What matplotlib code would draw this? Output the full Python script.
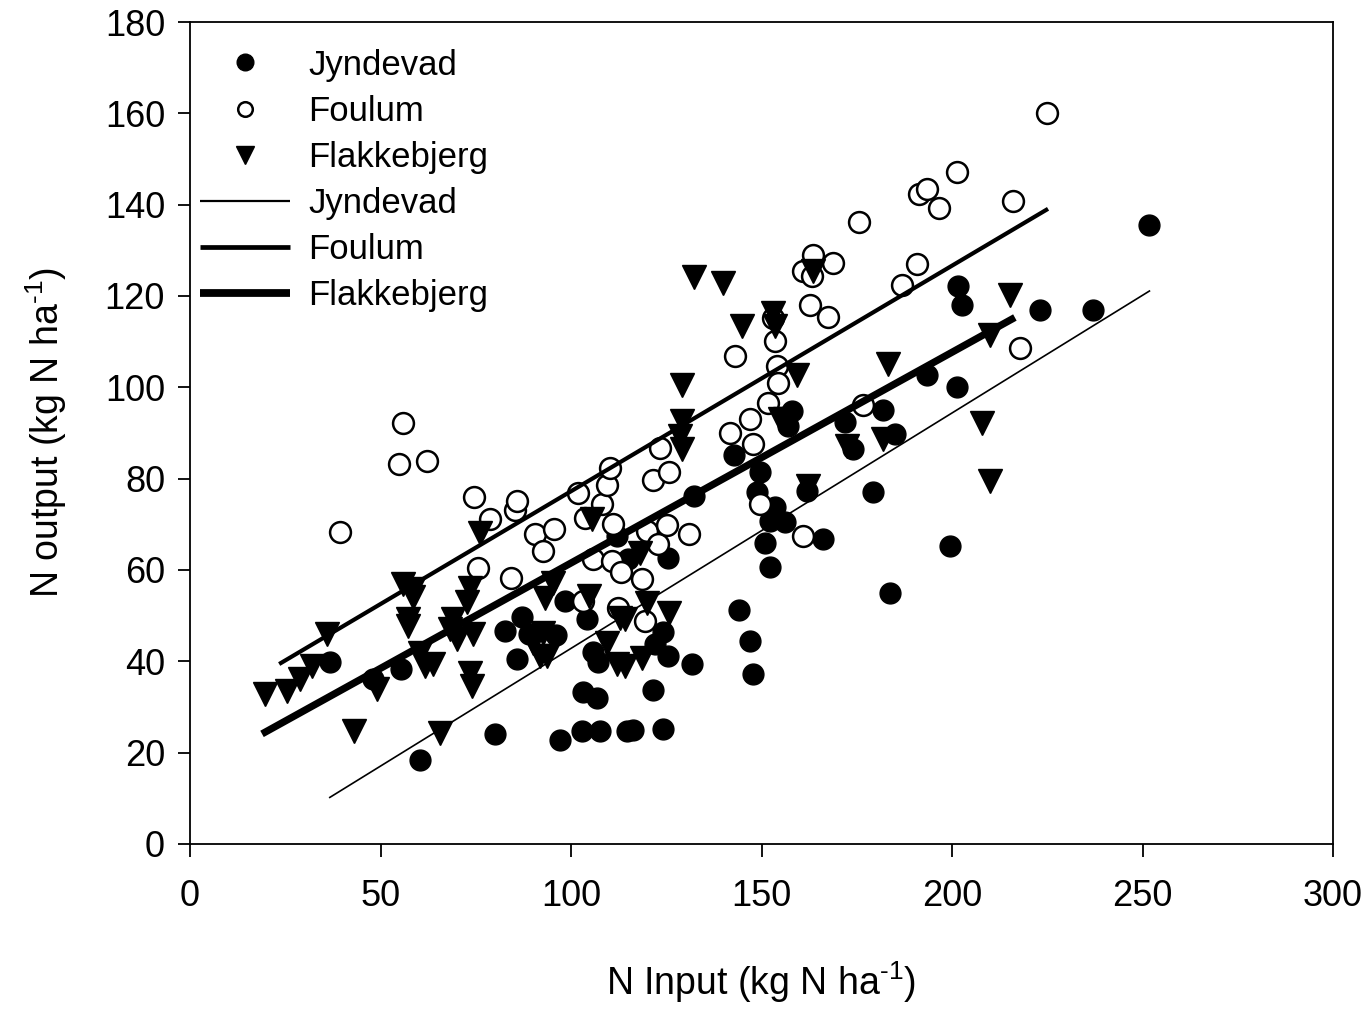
import numpy as np
import matplotlib
matplotlib.use("Agg")
import matplotlib.pyplot as plt
from matplotlib.lines import Line2D

plt.rcParams['font.family'] = ['Liberation Sans', 'DejaVu Sans']
plt.rcParams['mathtext.fontset'] = 'custom'
plt.rcParams['mathtext.rm'] = 'Liberation Sans'
plt.rcParams['mathtext.it'] = 'Liberation Sans'

# Jyndevad (filled circles)
jyn_x = [36.7, 48, 55.3, 60.3, 80, 82.6, 85.7, 87.1, 89, 96.1, 97.1, 98.4, 102.8, 103.2,
         104.1, 105.8, 106.8, 107.6, 107.1, 112, 114.6, 116.3, 115, 121.5, 122, 124.1,
         124.1, 125.5, 125.5, 131.7, 132.3, 142.7, 144.1, 147, 147.8, 148.7, 149.5, 150.9,
         152.2, 152.2, 153.5, 156.2, 157, 157.9, 161.9, 166.1, 171.9, 174, 179.3, 181.9,
         183.7, 185, 193.4, 199.5, 201.3, 201.6, 202.6, 223.1, 237.1, 251.7]
jyn_y = [39.8, 36.1, 38.3, 18.4, 24.1, 46.6, 40.5, 49.6, 46, 45.7, 22.7, 53.1, 24.7, 33.2,
         49.2, 42, 31.9, 24.7, 39.8, 67.4, 24.7, 24.9, 62.3, 33.7, 43.7, 46.4,
         25.2, 41.1, 62.6, 39.4, 76.1, 85.2, 51.2, 44.4, 37.2, 77, 81.5, 66,
         70.7, 60.6, 73.7, 70.4, 91.5, 94.8, 77.3, 66.7, 92.4, 86.4, 77, 95.1,
         55, 89.7, 102.8, 65.2, 100, 122.1, 118.1, 116.9, 116.9, 135.6]

# Foulum (open circles)
fou_x = [39.4, 54.9, 56, 62.1, 74.6, 75.5, 78.7, 84.2, 85.3, 85.9, 90.6, 92.6, 95.6, 101.9,
         103.2, 103.7, 105.9, 108.1, 109.4, 110.2, 110.7, 111.1, 112.4, 113, 118.6, 119.4,
         119.9, 121.6, 122.9, 123.4, 125.1, 125.8, 131, 141.7, 143, 147, 147.7, 149.6,
         151.8, 153.1, 153.5, 154, 154.4, 161, 161, 162.7, 163.2, 163.6, 167.5, 168.8,
         175.7, 176.7, 186.8, 190.7, 191.3, 193.4, 196.7, 201.2, 216.1, 217.8, 224.9]
fou_y = [68.4, 83.3, 92.1, 83.8, 76, 60.5, 71.1, 58.3, 73.1, 75.2, 67.8, 64.2, 68.9, 76.9,
         53.2, 71.4, 62.5, 74.4, 78.7, 82.4, 61.9, 70, 51.7, 59.6, 58, 48.8,
         68.5, 79.6, 65.6, 86.8, 69.8, 81.4, 67.8, 90, 106.8, 93, 87.6, 74.4,
         96.6, 115.2, 110.1, 104.6, 100.9, 67.4, 125.4, 118.1, 124.3, 129, 115.5, 127.2,
         136.1, 96.2, 122.5, 126.9, 142.3, 143.4, 139.2, 147.2, 140.7, 108.6, 160]

# Flakkebjerg (down triangles)
fla_x = [19.7, 25.4, 28.9, 31.9, 35.9, 43, 49, 56, 57.3, 57.3, 58.6, 58.6, 60.4, 61.7,
         63.9, 65.6, 68.2, 69.1, 70, 72.6, 73.5, 73.5, 73.9, 74.4, 76.1, 90.1, 91.9, 92.7,
         93.2, 93.6, 95.4, 104.6, 105.4, 109.4, 112, 112.9, 114.2, 114.2, 118.1, 118.6,
         119.9, 125.6, 128.6, 129, 129, 129, 132.3, 140, 144.8, 153.1, 153.5, 154.9,
         156.2, 159.2, 162.3, 163.6, 172.4, 182, 183.3, 207.8, 210, 210, 215.2]
fla_y = [32.8, 33.5, 36.1, 39, 45.9, 24.8, 33.9, 56.9, 47.7, 49.2, 54, 55.8, 41.9, 39,
         39.4, 24.4, 47, 49.2, 44.8, 52.9, 56.1, 37.5, 34.6, 45.9, 68.1, 44.1, 41.2, 46.3,
         53.9, 41.2, 57.2, 54.3, 71.1, 44.1, 39.4, 49.5, 39, 49.2, 63.8, 40.8,
         52.8, 50.6, 89.3, 86.4, 92.6, 100.4, 124.2, 122.8, 113.4, 116.3, 113.4, 93,
         93, 102.8, 78.4, 125.4, 87.1, 88.6, 105, 92.2, 79.4, 111.5, 120.3]

# regression lines: intercept, slope, x range
sites = ['Jyndevad', 'Foulum', 'Flakkebjerg']
intercepts = [-8.72, 27.84, 15.38]
slopes = [0.5155, 0.494, 0.4615]
x_start = [36.5, 23.4, 18.9]
x_end = [252, 225.2, 216.5]
line_widths = [1.2, 3.0, 5.2]

fig = plt.figure(figsize=(13.7, 10.1), dpi=100)
ax = fig.add_axes([0.1387, 0.1644, 0.8343, 0.8138])

ms = 15
ax.plot(jyn_x, jyn_y, 'o', color='black', ms=ms, ls='none', zorder=3)
ax.plot(fou_x, fou_y, 'o', mfc='white', mec='black', mew=1.8, ms=ms, ls='none', zorder=3)
ax.plot(fla_x, fla_y, 'v', color='black', ms=ms + 2, ls='none', zorder=3)

for a, b, x0, x1, lw in zip(intercepts, slopes, x_start, x_end, line_widths):
    xs = np.array([x0, x1])
    ax.plot(xs, a + b * xs, color='black', lw=lw, solid_capstyle='butt', zorder=4)

ax.set_xlim(0, 300)
ax.set_ylim(0, 180)
ax.set_xticks(np.arange(0, 301, 50))
ax.set_yticks(np.arange(0, 181, 20))
ax.tick_params(direction='out', length=9, width=1.3, labelsize=26,
               top=False, right=False)
ax.tick_params(axis='x', pad=16)
ax.tick_params(axis='y', pad=9)
for s in ax.spines.values():
    s.set_linewidth(1.3)

ax.set_xlabel('N Input (kg N ha$^{\\text{-1}}$)', fontsize=27, labelpad=33)
ax.set_ylabel('N output (kg N ha$^{\\text{-1}}$)', fontsize=27, labelpad=26)

handles = [
    Line2D([], [], marker='o', color='black', ls='none', ms=12),
    Line2D([], [], marker='o', mfc='white', mec='black', mew=1.8, ls='none', ms=10.5),
    Line2D([], [], marker='v', color='black', ls='none', ms=13),
]
for lw in line_widths:
    handles.append(Line2D([], [], color='black', lw=lw + 0.4, solid_capstyle='butt'))
labels = sites + sites
ax.legend(handles, labels, loc='upper left', bbox_to_anchor=(0.0, 0.98),
          frameon=False, fontsize=25, handlelength=2.6, handletextpad=0.52,
          labelspacing=0.38, borderpad=0.29, borderaxespad=0.0)

fig.savefig('out.png', dpi=100)
